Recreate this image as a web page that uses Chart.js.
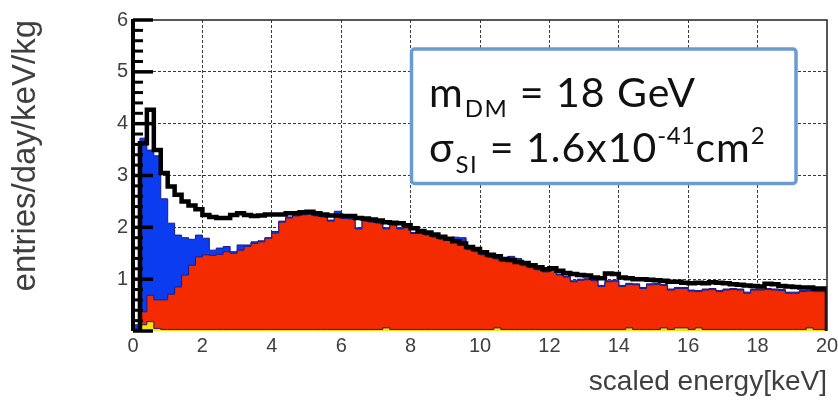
<!DOCTYPE html>
<html>
<head>
<meta charset="utf-8">
<script src="https://cdn.jsdelivr.net/npm/chart.js@4.4.1/dist/chart.umd.min.js"></script>
<style>
  html, body { margin: 0; padding: 0; background: #ffffff; }
  #wrap { width: 838px; height: 403px; }
</style>
</head>
<body>
<div id="wrap"><canvas id="chart" width="838" height="403"></canvas></div>
<script>
// Histogram binning: 100 bins of 0.2 keV from 0 to 20 keV
const BIN_WIDTH = 0.2;
const X_MIN = 0, X_MAX = 20, X_STEP = 2;
const Y_MIN = 0, Y_MAX = 6, Y_STEP = 1;

// Stacked model components (entries/day/keV/kg per bin), bottom to top
const yellowCounts = [
  0, 0.12, 0.18, 0.05, 0.03, 0.03, 0.03, 0.03, 0.03, 0.03,
  0.03, 0.03, 0.03, 0.03, 0.03, 0.03, 0.03, 0.03, 0.03, 0.03,
  0.03, 0.03, 0.03, 0.03, 0.03, 0.03, 0.03, 0.03, 0.03, 0.03,
  0.03, 0.03, 0.03, 0.03, 0.03, 0.03, 0.06, 0.03, 0.03, 0.03,
  0.03, 0.03, 0.03, 0.03, 0.03, 0.03, 0.03, 0.03, 0.03, 0.03,
  0.03, 0.03, 0.06, 0.03, 0.03, 0.03, 0.03, 0.03, 0.03, 0.03,
  0.03, 0.03, 0.03, 0.03, 0.03, 0.03, 0.03, 0.03, 0.03, 0.03,
  0.03, 0.06, 0.03, 0.03, 0.03, 0.03, 0.06, 0.03, 0.06, 0.06,
  0.03, 0.06, 0.03, 0.03, 0.03, 0.03, 0.03, 0.03, 0.03, 0.03,
  0.03, 0.03, 0.03, 0.03, 0.03, 0.03, 0.03, 0.06, 0.03, 0.03
];
const redCounts = [
  0, 0.25, 0.51, 0.55, 0.57, 0.68, 0.82, 1.05, 1.24, 1.40,
  1.44, 1.43, 1.45, 1.50, 1.47, 1.53, 1.60, 1.66, 1.69, 1.76,
  1.86, 2.07, 2.15, 2.19, 2.21, 2.22, 2.19, 2.17, 2.09, 2.21,
  2.14, 2.13, 1.94, 2.09, 2.07, 2.05, 1.91, 2.01, 1.94, 1.96,
  1.85, 1.85, 1.82, 1.78, 1.74, 1.73, 1.73, 1.72, 1.54, 1.50,
  1.44, 1.39, 1.33, 1.31, 1.35, 1.33, 1.23, 1.19, 1.15, 1.11,
  1.14, 1.05, 1.01, 0.92, 0.95, 0.96, 0.94, 0.83, 0.92, 0.93,
  0.83, 0.84, 0.86, 0.79, 0.86, 0.87, 0.82, 0.76, 0.76, 0.76,
  0.74, 0.70, 0.76, 0.77, 0.73, 0.76, 0.77, 0.76, 0.70, 0.76,
  0.76, 0.77, 0.76, 0.75, 0.70, 0.70, 0.73, 0.71, 0.73, 0.73
];
const blueCounts = [
  0.12, 3.35, 2.80, 2.78, 1.95, 1.37, 1.00, 0.72, 0.50, 0.42,
  0.32, 0.10, 0.12, 0.10, 0.03, 0.10, 0.03, 0.03, 0.02, 0.01,
  0.03, 0.02, 0.02, 0.02, 0.02, 0.02, 0.02, 0.02, 0.02, 0.07,
  0.02, 0.02, 0.02, 0.02, 0.02, 0.02, 0.02, 0.02, 0.02, 0.02,
  0.02, 0.02, 0.02, 0.02, 0.02, 0.02, 0.05, 0.05, 0.02, 0.02,
  0.02, 0.02, 0.02, 0.02, 0.06, 0.04, 0.02, 0.02, 0.02, 0.02,
  0.02, 0.02, 0.02, 0.02, 0.02, 0.02, 0.02, 0.02, 0.02, 0.02,
  0.02, 0.02, 0.02, 0.02, 0.02, 0.02, 0.02, 0.02, 0.02, 0.02,
  0.02, 0.02, 0.02, 0.02, 0.02, 0.02, 0.02, 0.02, 0.02, 0.02,
  0.02, 0.02, 0.02, 0.02, 0.02, 0.02, 0.02, 0.02, 0.02, 0.02
];
// Measured spectrum (black outline)
const measuredCounts = [
  0, 3.62, 4.27, 3.49, 3.05, 2.79, 2.63, 2.50, 2.42, 2.35,
  2.24, 2.20, 2.18, 2.18, 2.24, 2.27, 2.24, 2.22, 2.23, 2.25,
  2.25, 2.25, 2.27, 2.27, 2.29, 2.30, 2.27, 2.25, 2.23, 2.23,
  2.22, 2.22, 2.18, 2.17, 2.15, 2.13, 2.10, 2.09, 2.08, 2.04,
  1.98, 1.93, 1.90, 1.86, 1.82, 1.78, 1.73, 1.69, 1.62, 1.58,
  1.52, 1.47, 1.44, 1.39, 1.37, 1.33, 1.31, 1.27, 1.23, 1.19,
  1.21, 1.16, 1.12, 1.10, 1.08, 1.07, 1.03, 1.02, 1.11, 1.10,
  1.03, 1.02, 1.00, 1.00, 0.99, 0.98, 0.97, 0.95, 0.95, 0.93,
  0.92, 0.93, 0.92, 0.94, 0.93, 0.92, 0.90, 0.89, 0.88, 0.87,
  0.86, 0.91, 0.90, 0.87, 0.86, 0.85, 0.84, 0.84, 0.82, 0.82
];

// Points at each bin's lower edge, closed at the upper edge of the last bin
function binPoints(values) {
  const pts = values.map((v, i) => ({ x: i * BIN_WIDTH, y: v }));
  pts.push({ x: values.length * BIN_WIDTH, y: 0 });
  return pts;
}

const OUTLINE = '#1c1c8c';
const LABEL_FONT = "'Liberation Sans', Arial, Helvetica, sans-serif";
const TEXT_GREY = '#3f3f3f';

function histDataset(label, values, fillColor) {
  return {
    label,
    data: binPoints(values),
    stepped: true,
    fill: 'origin',
    backgroundColor: fillColor,
    borderColor: OUTLINE,
    borderWidth: 1,
    pointRadius: 0,
    stack: 'model'
  };
}

// Frame and inward y-axis ticks, drawn above the histograms
const framePlugin = {
  id: 'frame',
  afterDatasetsDraw(chart) {
    const { ctx, chartArea: a, scales: { y } } = chart;
    ctx.save();
    ctx.setLineDash([]);
    ctx.strokeStyle = '#222';
    ctx.lineWidth = 1.5;
    ctx.beginPath();
    ctx.moveTo(a.left, a.top);
    ctx.lineTo(a.right, a.top);
    ctx.lineTo(a.right, a.bottom);
    ctx.stroke();

    ctx.strokeStyle = '#000';
    ctx.lineWidth = 4;
    ctx.beginPath();
    ctx.moveTo(a.left, a.top - 1);
    ctx.lineTo(a.left, a.bottom);
    ctx.stroke();

    const minorPerMajor = 5;
    for (let k = 0; k <= (Y_MAX - Y_MIN) * minorPerMajor; k++) {
      const v = Y_MIN + k / minorPerMajor;
      const major = k % minorPerMajor === 0;
      const py = y.getPixelForValue(v);
      ctx.lineWidth = major ? 3.5 : 3;
      ctx.beginPath();
      ctx.moveTo(a.left, py);
      ctx.lineTo(a.left + (major ? 20 : 10), py);
      ctx.stroke();
    }
    ctx.restore();
  }
};

// Parameter box with sub/superscripted text runs
function drawRuns(ctx, x, baseline, runs, family) {
  let cx = x;
  for (const r of runs) {
    ctx.font = `${r.size}px ${family}`;
    ctx.letterSpacing = (r.spacing || 0) + 'px';
    ctx.fillText(r.text, cx, baseline + (r.dy || 0));
    cx += ctx.measureText(r.text).width + (r.gap || 0);
  }
  ctx.letterSpacing = '0px';
}

const boxPlugin = {
  id: 'paramBox',
  afterDraw(chart) {
    const ctx = chart.ctx;
    ctx.save();
    ctx.setLineDash([]);
    ctx.fillStyle = '#ffffff';
    ctx.strokeStyle = '#6a9bd2';
    ctx.lineWidth = 3.5;
    ctx.beginPath();
    ctx.roundRect(411.5, 49, 384.5, 134.5, 3);
    ctx.fill();
    ctx.stroke();

    const family = "Lato, 'Noto Sans', 'DejaVu Sans', sans-serif";
    ctx.fillStyle = '#111111';
    ctx.textBaseline = 'alphabetic';
    ctx.textAlign = 'left';
    drawRuns(ctx, 429, 106.5, [
      { text: 'm', size: 41, spacing: 1, gap: 1 },
      { text: 'DM', size: 24, spacing: 1.5, dy: 10 },
      { text: ' = 18 GeV', size: 41, spacing: 1 }
    ], family);
    drawRuns(ctx, 429, 161.5, [
      { text: 'σ', size: 41, spacing: 1, gap: 1 },
      { text: 'SI', size: 24, spacing: 1.5, dy: 11 },
      { text: ' = 1.6x10', size: 41, spacing: 1 },
      { text: '-41', size: 24, spacing: 0.5, dy: -18 },
      { text: 'cm', size: 41, spacing: 1 },
      { text: '2', size: 24, spacing: 0.5, dy: -18 }
    ], family);
    ctx.restore();
  }
};

const gridColor = (edgeA, edgeB) => (c) =>
  (c.tick && (c.tick.value === edgeA || c.tick.value === edgeB)) ? 'rgba(0,0,0,0)' : '#3a3a3a';

new Chart(document.getElementById('chart'), {
  type: 'line',
  data: {
    datasets: [
      histDataset('yellow', yellowCounts, '#f7e600'),
      histDataset('red', redCounts, '#f42a00'),
      histDataset('blue', blueCounts, '#0b3cf0'),
      {
        label: 'measured',
        data: binPoints(measuredCounts),
        stepped: true,
        fill: false,
        borderColor: '#000000',
        borderWidth: 4.5,
        borderJoinStyle: 'miter',
        borderCapStyle: 'butt',
        pointRadius: 0,
        stack: 'measured',
        order: -1
      }
    ]
  },
  options: {
    responsive: false,
    animation: false,
    devicePixelRatio: 1,
    layout: { padding: { left: 0, top: 20, right: 11, bottom: 0 } },
    plugins: {
      legend: { display: false },
      tooltip: { enabled: false },
      title: { display: false }
    },
    scales: {
      x: {
        type: 'linear',
        min: X_MIN,
        max: X_MAX,
        afterFit(scale) {
          scale.height = 72;
          scale.paddingLeft = 0;
          scale.paddingRight = 0;
        },
        ticks: {
          stepSize: X_STEP,
          color: TEXT_GREY,
          font: { family: LABEL_FONT, size: 20 },
          padding: 3,
          maxRotation: 0
        },
        grid: { color: gridColor(X_MIN, X_MAX), lineWidth: 1, drawTicks: false },
        border: { display: false, dash: [3, 2] },
        title: {
          display: true,
          text: 'scaled energy[keV]',
          align: 'end',
          color: TEXT_GREY,
          font: { family: LABEL_FONT, size: 28 },
          padding: { top: 0, bottom: 4 }
        }
      },
      y: {
        type: 'linear',
        min: Y_MIN,
        max: Y_MAX,
        stacked: true,
        afterFit(scale) { scale.width = 133; },
        ticks: {
          stepSize: Y_STEP,
          color: TEXT_GREY,
          font: { family: LABEL_FONT, size: 20 },
          padding: 5,
          callback: (v) => (v === 0 ? '' : String(v))
        },
        grid: { color: gridColor(Y_MIN, Y_MAX), lineWidth: 1, drawTicks: false },
        border: { display: false, dash: [3, 2] },
        title: {
          display: true,
          text: 'entries/day/keV/kg',
          align: 'end',
          color: TEXT_GREY,
          font: { family: LABEL_FONT, size: 33 },
          padding: { top: 6, bottom: 0 }
        }
      }
    }
  },
  plugins: [framePlugin, boxPlugin]
});
</script>
</body>
</html>
